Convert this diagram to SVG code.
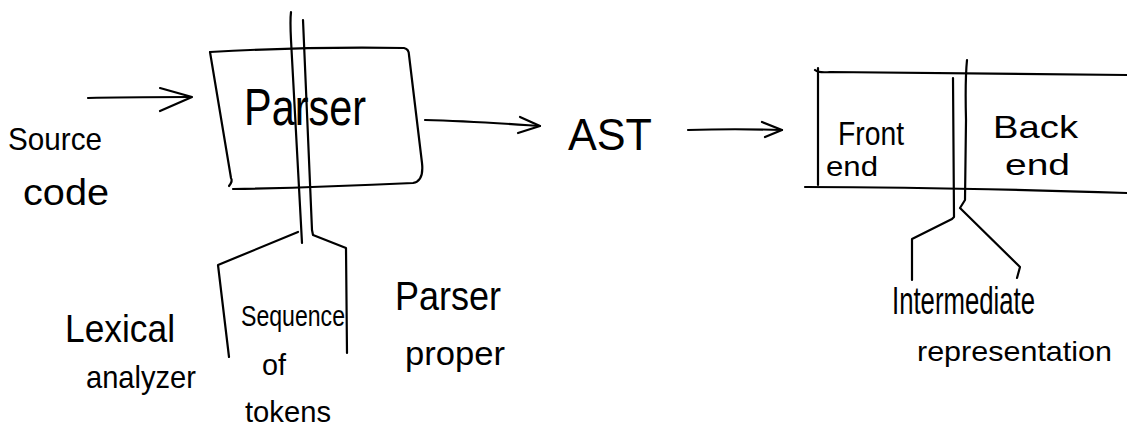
<svg xmlns="http://www.w3.org/2000/svg" width="1127" height="431" viewBox="0 0 1127 431">
<style>
.s{fill:none;stroke:#000;stroke-width:2.2;stroke-linecap:round;stroke-linejoin:round}
.t{font-family:"Liberation Sans",Arial,sans-serif;fill:#000;font-weight:normal}
</style>
<rect width="1127" height="431" fill="#fff"/>
<g id="source-code">
<text class="t" x="8" y="150" font-size="32" textLength="94" lengthAdjust="spacingAndGlyphs">Source</text>
<text class="t" x="23" y="205" font-size="36" textLength="86" lengthAdjust="spacingAndGlyphs">code</text>
</g>
<g id="parser">
<path class="s" d="M210,52 C280,48 340,47 404,48 Q409,49 409,55 L422,163 Q424,181 413,183 C350,186 290,188 233,189"/>
<path class="s" d="M210,52 L231,178 Q233,181 229,186"/>
<text class="t" x="244" y="125" font-size="52" textLength="122" lengthAdjust="spacingAndGlyphs">Parser</text>
</g>
<g id="ast">
<text class="t" x="568" y="150" font-size="44" textLength="84" lengthAdjust="spacingAndGlyphs">AST</text>
</g>
<g id="compiler">
<path class="s" d="M815,70 Q818,73 830,72 C920,73 1020,74 1127,75"/>
<path class="s" d="M818,68 L818,185"/>
<path class="s" d="M805,187 C900,187 1000,189 1127,193"/>
<text class="t" x="838" y="145" font-size="34" textLength="66" lengthAdjust="spacingAndGlyphs">Front</text>
<text class="t" x="826" y="176" font-size="28" textLength="52" lengthAdjust="spacingAndGlyphs">end</text>
<text class="t" x="993" y="138" font-size="32" textLength="85" lengthAdjust="spacingAndGlyphs">Back</text>
<text class="t" x="1005" y="175" font-size="30" textLength="65" lengthAdjust="spacingAndGlyphs">end</text>
</g>
<g id="lexical-analyzer">
<text class="t" x="65" y="342" font-size="38" textLength="110" lengthAdjust="spacingAndGlyphs">Lexical</text>
<text class="t" x="86" y="388" font-size="32" textLength="110" lengthAdjust="spacingAndGlyphs">analyzer</text>
</g>
<g id="sequence-of-tokens">
<text class="t" x="241" y="326" font-size="30" textLength="104" lengthAdjust="spacingAndGlyphs">Sequence</text>
<text class="t" x="262" y="375" font-size="30" textLength="24" lengthAdjust="spacingAndGlyphs">of</text>
<text class="t" x="245" y="422" font-size="30" textLength="86" lengthAdjust="spacingAndGlyphs">tokens</text>
</g>
<g id="parser-proper">
<text class="t" x="395" y="310" font-size="40" textLength="106" lengthAdjust="spacingAndGlyphs">Parser</text>
<text class="t" x="405" y="365" font-size="34" textLength="100" lengthAdjust="spacingAndGlyphs">proper</text>
</g>
<g id="intermediate-representation">
<text class="t" x="892" y="314" font-size="38" textLength="143" lengthAdjust="spacingAndGlyphs">Intermediate</text>
<text class="t" x="917" y="361" font-size="28" textLength="195" lengthAdjust="spacingAndGlyphs">representation</text>
</g>
<g id="connectors">
<path class="s" d="M88,98 C120,97 160,97 190,97"/>
<path class="s" d="M160,88 L192,97 L160,111"/>
<path class="s" d="M425,120 C470,121 510,124 540,126"/>
<path class="s" d="M520,117 L540,126 L518,133"/>
<path class="s" d="M688,130 C720,129 750,129 782,130"/>
<path class="s" d="M762,122 L782,130 L765,137"/>
<path class="s" d="M291,12 Q290,20 291,40 L302,243"/>
<path class="s" d="M303,20 L312,230"/>
<path class="s" d="M298,232 L218,265 L229,357"/>
<path class="s" d="M312,230 L313,235 L346,248 L347,353"/>
<path class="s" d="M967,60 Q965,80 966,120 L965,200 L960,208 L1020,267 L1017,278"/>
<path class="s" d="M953,78 L954,217 L952,219 L912,239 L912,280"/>
</g>
</svg>
